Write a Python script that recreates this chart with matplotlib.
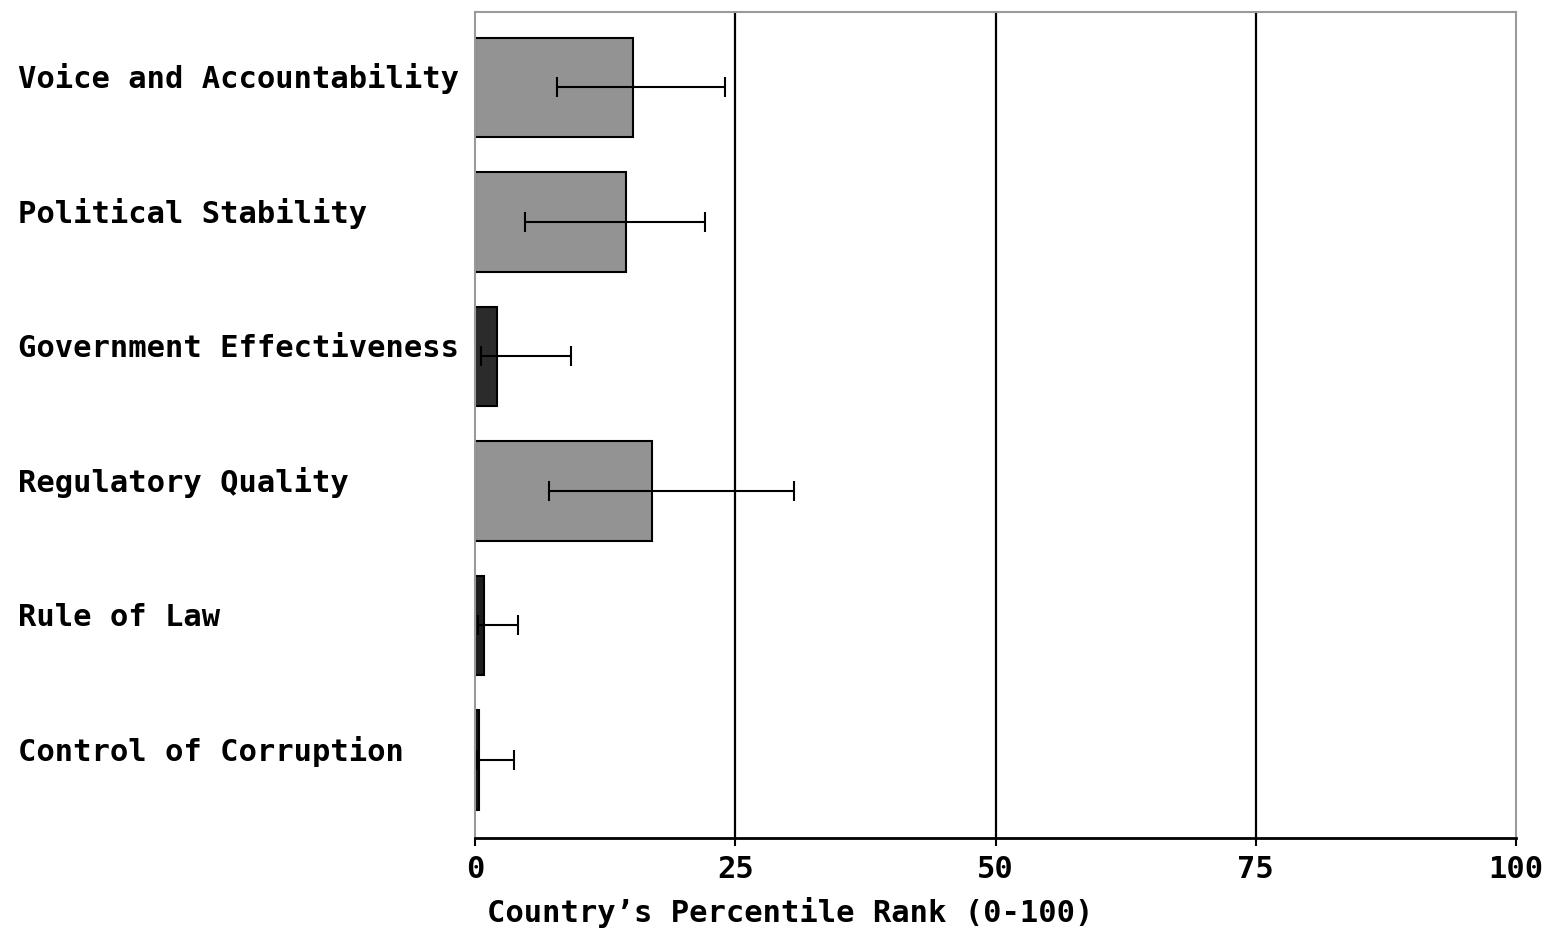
import matplotlib.pyplot as plt
import numpy as np

# Governance indicators (percentile rank)
categories = ['Voice and Accountability', 'Political Stability',
              'Government Effectiveness', 'Regulatory Quality',
              'Rule of Law', 'Control of Corruption']
rank = [15.2, 14.5, 2.1, 17.0, 0.9, 0.4]
lower = [7.9, 4.8, 0.6, 7.1, 0.3, 0.2]
upper = [24.0, 22.1, 9.2, 30.6, 4.1, 3.7]
bar_colors = ['#939393', '#939393', '#2b2b2b', '#939393', '#1e1e1e', '#111111']
xticks = [0, 25, 50, 75, 100]

plt.rcParams['font.family'] = ['DejaVu Sans Mono']
plt.rcParams['font.weight'] = 'bold'

fig = plt.figure(figsize=(15.48, 9.30), dpi=100)
ax = fig.add_axes([475/1548, 92/930, 1041/1548, 826/930])

y = np.arange(len(categories))
rank = np.array(rank)
err = np.array([rank - np.array(lower), np.array(upper) - rank])

# grid lines behind bars
for t in xticks[1:-1]:
    ax.axvline(t, color='black', lw=1.6, zorder=0)

ax.barh(y, rank, height=0.74, color=bar_colors, edgecolor='black',
        linewidth=1.5, zorder=2)
ax.errorbar(rank, y, xerr=err, fmt='none', ecolor='black',
            elinewidth=1.5, capsize=7, capthick=1.5, zorder=3)

ax.set_xlim(0, 100)
ax.set_ylim(5.58, -0.56)

ax.set_yticks([])
ax.set_xticks(xticks)
ax.set_xticklabels([str(t) for t in xticks], fontsize=22, fontweight='bold')
ax.tick_params(axis='x', direction='out', length=6, width=1.5, pad=6)

for s in ['top', 'right', 'left']:
    ax.spines[s].set_color('#9a9a9a')
    ax.spines[s].set_linewidth(1.5)
ax.spines['bottom'].set_color('black')
ax.spines['bottom'].set_linewidth(2)

# category labels on the left, left-aligned
for i, c in enumerate(categories):
    yy = ax.transData.transform((0, y[i]))[1]
    fig.text(18/1548, yy/930 + 0.009, c, fontsize=22, fontweight='bold',
             ha='left', va='center')

fig.text(790/1548, 1 - 912/930, "Country\u2019s Percentile Rank (0-100)",
         fontsize=22, fontweight='bold', ha='center', va='center')

plt.savefig('out.png', dpi=100)
